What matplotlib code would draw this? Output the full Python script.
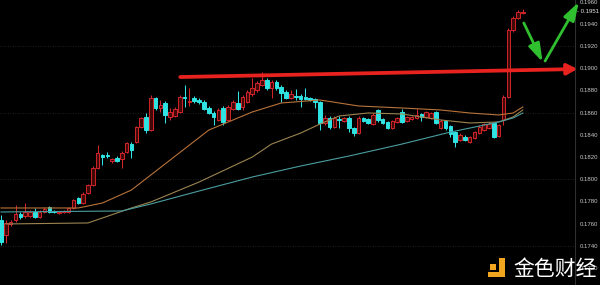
import matplotlib
matplotlib.use("Agg")
import matplotlib.pyplot as plt
import matplotlib.transforms as mtransforms
from matplotlib.patches import Rectangle

# ---------------- data ----------------
opens = [.17633,.17498,.17597,.17633,.17687,.17669,.17669,.17705,.17660,.17705,
         .17750,.17714,.17696,.17705,.17705,.17741,.17831,.17786,.17876,.17948,
         .18101,.18218,.18218,.18164,.18191,.18182,.18245,.18317,.18335,.18470,
         .18561,.18443,.18732,.18642,.18687,.18561,.18570,.18606,.18741,.18696,
         .18732,.18714,.18696,.18642,.18597,.18534,.18642,.18534,.18633,.18687,
         .18651,.18696,.18768,.18804,.18849,.18894,.18822,.18876,.18831,.18786,
         .18732,.18750,.18750,.18741,.18732,.18723,.18696,.18507,.18552,.18470,
         .18543,.18525,.18552,.18461,.18416,.18552,.18543,.18497,.18624,.18543,
         .18516,.18461,.18516,.18606,.18525,.18543,.18552,.18588,.18561,.18552,
         .18606,.18461,.18525,.18479,.18425,.18353,.18380,.18335,.18371,.18416,
         .18443,.18461,.18507,.18389,.18534,.18741,.19344,.19453,.19498]
closes = [.17434,.17606,.17615,.17687,.17660,.17705,.17705,.17660,.17705,.17732,
          .17705,.17705,.17705,.17714,.17741,.17813,.17786,.17867,.17948,.18101,
          .18236,.18200,.18209,.18182,.18164,.18236,.18326,.18263,.18470,.18552,
          .18443,.18732,.18642,.18669,.18579,.18606,.18633,.18741,.18732,.18705,
          .18705,.18696,.18633,.18597,.18561,.18624,.18516,.18651,.18696,.18633,
          .18741,.18786,.18822,.18867,.18894,.18822,.18876,.18822,.18777,.18732,
          .18768,.18741,.18723,.18723,.18714,.18696,.18507,.18552,.18470,.18552,
          .18534,.18552,.18461,.18416,.18552,.18525,.18507,.18579,.18534,.18507,
          .18461,.18525,.18552,.18516,.18561,.18561,.18579,.18561,.18606,.18597,
          .18507,.18525,.18461,.18407,.18335,.18398,.18353,.18380,.18425,.18470,
          .18497,.18497,.18380,.18488,.18741,.19344,.19453,.19507,.19510]
highs = [.17678,.17633,.17633,.17768,.17705,.17786,.17723,.17741,.17723,.17750,
         .17759,.17723,.17714,.17723,.17750,.17822,.17840,.17885,.17957,.18119,
         .18308,.18227,.18245,.18191,.18209,.18254,.18335,.18335,.18479,.18561,
         .18597,.18759,.18741,.18714,.18705,.18642,.18651,.18759,.18849,.18822,
         .18750,.18732,.18714,.18660,.18615,.18642,.18660,.18669,.18714,.18795,
         .18759,.18804,.18912,.18885,.18966,.18912,.18894,.18894,.18849,.18804,
         .18804,.18813,.18768,.18822,.18741,.18732,.18705,.18579,.18570,.18570,
         .18570,.18561,.18570,.18470,.18570,.18561,.18552,.18597,.18633,.18552,
         .18525,.18534,.18561,.18633,.18570,.18570,.18633,.18597,.18615,.18606,
         .18615,.18534,.18534,.18488,.18434,.18416,.18398,.18389,.18434,.18488,
         .18507,.18516,.18516,.18497,.18759,.19362,.19471,.19525,.19534]
lows = [.17407,.17425,.17579,.17615,.17642,.17651,.17660,.17651,.17651,.17696,
        .17696,.17696,.17687,.17696,.17696,.17732,.17777,.17777,.17867,.17939,
        .18092,.18128,.18191,.18146,.18155,.18101,.18236,.18191,.18326,.18461,
        .18416,.18434,.18624,.18606,.18507,.18534,.18561,.18597,.18651,.18660,
        .18687,.18678,.18624,.18588,.18488,.18525,.18488,.18525,.18624,.18624,
        .18624,.18687,.18750,.18786,.18840,.18804,.18732,.18804,.18696,.18723,
        .18723,.18714,.18651,.18714,.18705,.18642,.18443,.18488,.18452,.18461,
        .18461,.18516,.18425,.18389,.18407,.18516,.18497,.18488,.18516,.18497,
        .18452,.18452,.18507,.18507,.18516,.18534,.18543,.18525,.18552,.18543,
        .18497,.18452,.18443,.18380,.18290,.18344,.18344,.18326,.18362,.18407,
        .18434,.18452,.18371,.18380,.18488,.18732,.19326,.19443,.19489]

# moving averages (sampled at candle indices)
ma_fast_idx = [0, 16, 21, 27, 31, 35, 43, 52, 58, 66, 74, 83, 91, 97, 103, 106, 108]
ma_fast = [.17741,.17741,.17786,.17903,.18038,.18173,.18443,.18606,.18687,.18714,
           .18660,.18642,.18624,.18597,.18579,.18597,.18651]
ma_mid_idx = [1, 18, 27, 31, 41, 52, 56, 62, 66, 70, 76, 83, 91, 97, 103, 106, 108]
ma_mid = [.17597,.17606,.17741,.17795,.17975,.18200,.18317,.18416,.18497,.18570,
          .18597,.18588,.18534,.18507,.18516,.18561,.18624]
ma_slow_idx = [0, 25, 31, 41, 52, 62, 72, 83, 93, 99, 103, 106, 108]
ma_slow = [.17705,.17714,.17777,.17894,.18020,.18119,.18209,.18317,.18425,.18479,
           .18516,.18552,.18597]

ytick_vals = [0.1720, 0.1740, 0.1760, 0.1780, 0.1800, 0.1820, 0.1840,
              0.1860, 0.1880, 0.1900, 0.1920, 0.1940, 0.1960]
grid_vals = [0.1740, 0.1800, 0.1860, 0.1920]
last_price = 0.1951

# hand-drawn annotations (index, price)
red_line_start = (37.1, 0.18921)
red_line_end = (119.3, 0.18993)
green1_start, green1_end = (108.2, 0.19408), (112.1, 0.19056)
green2_start, green2_end = (112.6, 0.19065), (119.6, 0.19597)

# ---------------- figure ----------------
W, H = 600, 285
fig = plt.figure(figsize=(W / 100, H / 100), dpi=100, facecolor="black")
ax = fig.add_axes([0, 0, 575 / W, 1], facecolor="black")

ax.set_xlim(-0.21, 118.8)
ax.set_ylim(0.17047, 0.19615)

for g in grid_vals:
    ax.axhline(g, color="#2a2a2a", lw=0.6, ls=(0, (1, 2)), zorder=0)

UP_EDGE, UP_FACE, DOWN = "#d0262b", "#420808", "#2fe3e3"
bw = 0.74
for i, (o, c, h, l) in enumerate(zip(opens, closes, highs, lows)):
    up = c >= o
    col = UP_EDGE if up else DOWN
    ax.plot([i, i], [l, h], color=col, lw=0.75, zorder=2, solid_capstyle="butt")
    lo, hi = min(o, c), max(o, c)
    hgt = max(hi - lo, 0.00003)
    ax.add_patch(Rectangle((i - bw / 2, lo), bw, hgt,
                           facecolor=UP_FACE if up else DOWN,
                           edgecolor=col, lw=0.7, zorder=3))

ax.plot(ma_fast_idx, ma_fast, color="#b8733a", lw=0.8, zorder=4)
ax.plot(ma_mid_idx, ma_mid, color="#9c8450", lw=0.8, zorder=4)
ax.plot(ma_slow_idx, ma_slow, color="#4a9ea0", lw=0.8, zorder=4)

# red resistance arrow
ax.annotate("", xy=red_line_end, xytext=red_line_start, annotation_clip=False,
            arrowprops=dict(arrowstyle="-|>,head_length=0.6,head_width=0.32",
                            color="#e8231f", lw=2.7, shrinkA=0, shrinkB=0),
            zorder=6)
# green arrows
for s, e in [(green1_start, green1_end), (green2_start, green2_end)]:
    ax.annotate("", xy=e, xytext=s, annotation_clip=False,
                arrowprops=dict(arrowstyle="-|>,head_length=1.1,head_width=0.35",
                                color="#2fbf2f", lw=2.0, shrinkA=0, shrinkB=0),
                zorder=6)

# axes styling
for sp in ["top", "left", "bottom"]:
    ax.spines[sp].set_visible(False)
ax.spines["right"].set_color("#303030")
ax.spines["right"].set_linewidth(0.8)
ax.set_xticks([])
ax.yaxis.tick_right()
ax.set_yticks(ytick_vals)
ax.set_yticklabels([f"{v:.4f}" for v in ytick_vals])
ax.tick_params(axis="y", length=0, pad=3.3, labelsize=4.3, labelcolor="#c8c8c8")
for t in ax.get_yticklabels():
    t.set_family("Liberation Sans")

trans = mtransforms.blended_transform_factory(ax.transAxes, ax.transData)
ax.text(1.003, last_price, "- " + f"{last_price:.4f}", transform=trans,
        fontsize=4.3, color="#e8e8e8", va="center", ha="left",
        family="Liberation Sans", clip_on=False)

# watermark logo
def fig_rect(x0, y0, w, h, color):
    fig.patches.append(Rectangle((x0 / W, 1 - (y0 + h) / H), w / W, h / H,
                                 transform=fig.transFigure, facecolor=color,
                                 edgecolor="none", zorder=10))
ORANGE = "#f2a51f"
fig_rect(490, 264, 6, 6, ORANGE)
fig_rect(499, 258, 6, 19, ORANGE)
fig_rect(488, 272, 17, 5, ORANGE)
fig.text(513 / W, 1 - 269 / H, "金色财经", color="white", fontsize=15,
         family=["Noto Sans CJK SC", "DejaVu Sans"], weight="medium",
         ha="left", va="center", zorder=11)

fig.savefig("out.png", dpi=100, facecolor="black")
